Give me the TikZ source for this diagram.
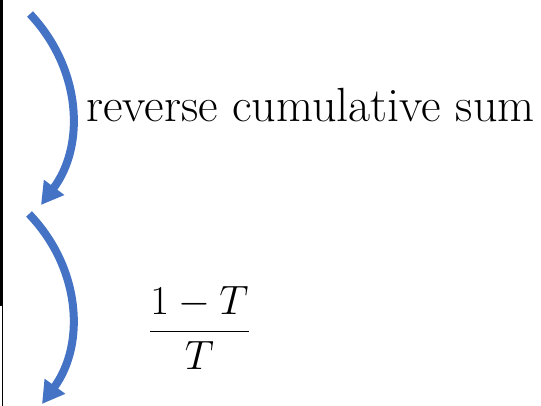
\RequirePackage{fix-cm}
\documentclass[tikz,border=0pt]{standalone}
\usepackage{amsmath}
\usepackage{xcolor}
\usetikzlibrary{arrows.meta,positioning}
\definecolor{arrowblue}{HTML}{4472C4}
\tikzset{
  bigarrow/.style={color=arrowblue,line width=8pt,-{Triangle[length=22pt,width=24pt]}},
  steplabel/.style={inner sep=0pt,font=\fontsize{48}{57}\selectfont},
  edgeline/.style={draw=black}
}

\begin{document}
\begin{tikzpicture}[x=1pt,y=1pt]
        \useasboundingbox (0,0) rectangle (541,406);
        \coordinate (top) at (1.5,406);
        \coordinate (mid) at (1.5,100);
        \coordinate (bot) at (2.5,0);
        \coordinate (midb) at (2.5,100);
        \draw[edgeline,line width=3pt] (top) -- (mid);
        \draw[edgeline,line width=1.5pt] (midb) -- (bot);

        \coordinate (s1) at (30,392);
        \coordinate (e1) at (41,201);
        \coordinate (s2) at (29,192);
        \coordinate (e2) at (42,2);
        \node[steplabel,anchor=base west] (rcs) at (86,284) {reverse cumulative sum};
        \node[inner sep=0pt,font=\fontsize{41}{49}\selectfont] (frac) at (199.5,78) {$\displaystyle\frac{1-T}{T}$};

        \draw[bigarrow] (s1) to[bend left=40] (e1);
        \draw[bigarrow] (s2) to[bend left=40] (e2);
      \end{tikzpicture}
\end{document}
